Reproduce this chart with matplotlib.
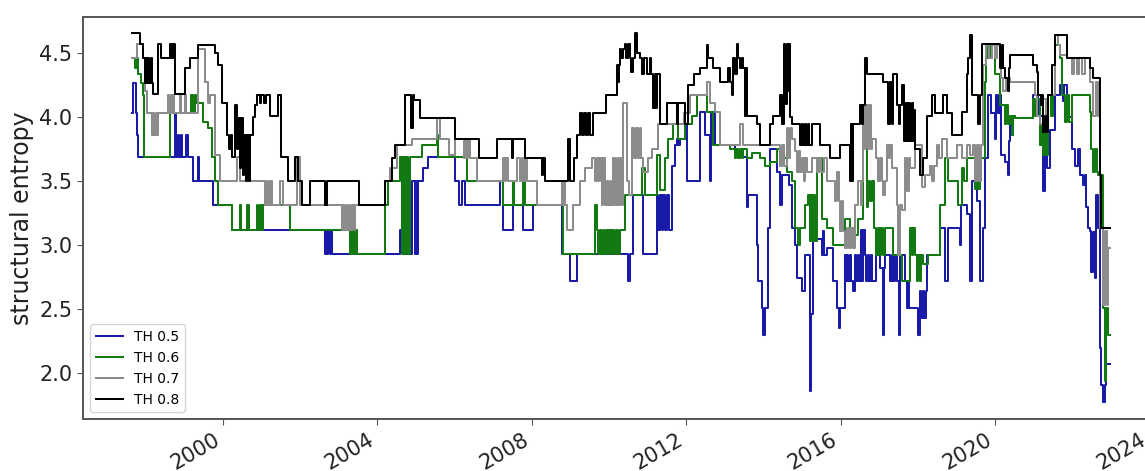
import matplotlib
matplotlib.use("Agg")
import matplotlib.pyplot as plt
import matplotlib.dates as mdates
from datetime import datetime, timedelta

# ---- data: (decimal year, structural entropy) step breakpoints ----
th05 = [(1997.63, 4.03), (1997.67, 4.26), (1997.73, 4.03), (1997.76, 3.86), (1997.80, 3.69),
        (1998.75, 4.03), (1998.78, 3.69), (1998.82, 3.86), (1998.85, 3.69), (1998.90, 3.86), (1998.94, 3.69),
        (1999.05, 3.86), (1999.09, 3.69), (1999.22, 3.50), (1999.34, 3.69), (1999.37, 3.50), (1999.75, 3.31),
        (2000.22, 3.12), (2002.64, 2.93), (2002.67, 3.12), (2002.70, 2.93), (2002.73, 3.12), (2002.76, 2.93),
        (2002.79, 3.12), (2002.82, 2.93), (2004.59, 3.12), (2004.67, 2.93), (2004.76, 3.50), (2004.79, 2.93),
        (2004.82, 3.50), (2004.85, 2.93), (2004.89, 3.50), (2004.97, 2.93), (2005.00, 3.50), (2005.03, 2.93),
        (2005.06, 3.50), (2005.19, 3.60), (2005.32, 3.69), (2006.01, 3.50), (2006.10, 3.31), (2006.18, 3.50),
        (2006.27, 3.31), (2007.18, 3.50), (2007.26, 3.12), (2007.52, 3.31), (2007.78, 3.12), (2008.04, 3.31),
        (2008.77, 2.93), (2008.99, 2.72), (2009.16, 2.93), (2010.50, 2.72), (2010.54, 2.93), (2010.63, 3.39),
        (2010.89, 2.93), (2011.24, 3.39), (2011.28, 3.12), (2011.32, 3.39), (2011.36, 3.12), (2011.40, 3.39),
        (2011.45, 3.12), (2011.50, 3.39), (2011.55, 3.12), (2011.62, 3.62), (2011.71, 3.78), (2011.76, 3.83),
        (2011.80, 3.78), (2011.84, 3.83), (2011.97, 3.94), (2012.01, 3.50), (2012.36, 4.04), (2012.49, 3.86),
        (2012.62, 3.50), (2012.64, 4.04), (2012.75, 3.78), (2013.26, 3.69), (2013.57, 3.30), (2013.61, 3.39),
        (2013.83, 3.00), (2013.87, 2.72), (2013.96, 2.51), (2014.00, 2.30), (2014.04, 2.51), (2014.13, 3.13),
        (2014.17, 3.75), (2014.34, 3.57), (2014.43, 3.31), (2014.47, 3.55), (2014.65, 3.47), (2014.73, 3.13),
        (2014.82, 3.00), (2014.86, 2.74), (2014.99, 2.64), (2015.08, 2.92), (2015.21, 1.86), (2015.23, 2.46),
        (2015.29, 3.11), (2015.38, 3.05), (2015.51, 2.92), (2015.55, 3.11), (2015.58, 2.92), (2015.64, 2.98),
        (2015.81, 2.72), (2015.90, 2.51), (2015.95, 2.35), (2015.99, 2.51), (2016.11, 2.92), (2016.14, 2.72),
        (2016.17, 2.92), (2016.20, 2.72), (2016.24, 2.92), (2016.28, 2.72), (2016.33, 2.64), (2016.37, 2.92),
        (2016.41, 2.72), (2016.45, 2.92), (2016.49, 2.72), (2016.53, 3.12), (2016.56, 2.72), (2016.59, 3.12),
        (2016.63, 2.92), (2016.67, 2.72), (2016.71, 2.92), (2016.75, 2.72), (2016.78, 2.92), (2016.81, 2.72),
        (2016.93, 2.92), (2017.02, 2.82), (2017.09, 2.30), (2017.12, 2.82), (2017.15, 2.92), (2017.28, 2.72),
        (2017.32, 2.92), (2017.36, 2.72), (2017.40, 2.92), (2017.45, 2.72), (2017.51, 2.30), (2017.55, 2.92),
        (2017.67, 2.72), (2017.72, 2.51), (2017.74, 2.72), (2017.76, 2.51), (2018.01, 2.30), (2018.05, 2.64),
        (2018.09, 2.43), (2018.13, 2.64), (2018.17, 2.43), (2018.20, 2.64), (2018.23, 2.92), (2018.58, 3.13),
        (2018.71, 2.72), (2018.79, 3.13), (2019.09, 3.00), (2019.12, 3.31), (2019.27, 3.24), (2019.35, 2.72),
        (2019.40, 3.50), (2019.53, 3.34), (2019.61, 2.72), (2019.68, 3.13), (2019.74, 3.68), (2019.83, 4.17),
        (2019.91, 4.03), (2020.00, 3.83), (2020.04, 4.17), (2020.08, 4.03), (2020.12, 4.17), (2020.17, 3.70),
        (2020.26, 3.65), (2020.34, 3.55), (2020.37, 3.81), (2020.39, 4.01), (2020.44, 3.86), (2020.48, 4.01),
        (2020.52, 3.99), (2020.99, 4.17), (2021.12, 4.01), (2021.25, 3.42), (2021.29, 3.81), (2021.34, 3.60),
        (2021.42, 3.90), (2021.55, 4.17), (2021.68, 4.25), (2021.75, 4.12), (2021.80, 4.25), (2021.86, 4.00),
        (2021.99, 3.75), (2022.08, 3.62), (2022.14, 3.75), (2022.20, 3.55), (2022.28, 3.47), (2022.33, 3.55),
        (2022.37, 3.30), (2022.42, 3.13), (2022.46, 3.11), (2022.50, 2.79), (2022.55, 3.10), (2022.59, 2.74),
        (2022.63, 3.39), (2022.68, 3.13), (2022.72, 2.20), (2022.74, 1.91), (2022.80, 1.78), (2022.85, 1.91),
        (2022.89, 2.07), (2022.98, 2.07)]

th06 = [(1997.63, 4.46), (1997.71, 4.38), (1997.76, 4.46), (1997.80, 4.33), (1997.87, 4.26), (1997.91, 4.17),
        (1997.95, 3.69), (1998.62, 4.03), (1999.18, 4.17), (1999.22, 4.03), (1999.27, 4.17), (1999.31, 4.11),
        (1999.48, 3.96), (1999.61, 3.91), (1999.70, 3.69), (1999.78, 3.50), (1999.88, 3.31), (2000.22, 3.12),
        (2000.44, 3.31), (2000.47, 3.12), (2000.63, 3.31), (2000.66, 3.12), (2000.87, 3.31), (2000.90, 3.12),
        (2000.96, 3.31), (2001.00, 3.12), (2001.04, 3.31), (2001.74, 3.12), (2003.29, 2.93), (2003.33, 3.12),
        (2003.37, 2.93), (2003.42, 3.12), (2003.47, 2.93), (2004.20, 3.31), (2004.28, 3.50), (2004.59, 3.69),
        (2004.63, 2.93), (2004.67, 3.69), (2004.71, 2.93), (2004.75, 3.69), (2004.79, 2.93), (2004.84, 3.69),
        (2005.15, 3.78), (2005.54, 3.86), (2005.56, 3.69), (2006.31, 3.50), (2007.26, 3.31), (2007.52, 3.50),
        (2007.55, 3.31), (2007.78, 3.50), (2007.81, 3.31), (2008.82, 2.93), (2009.64, 3.31), (2009.68, 3.12),
        (2009.72, 2.93), (2009.76, 3.12), (2009.80, 2.93), (2009.84, 3.12), (2009.88, 2.93), (2009.92, 3.12),
        (2009.96, 2.93), (2010.00, 3.12), (2010.04, 2.93), (2010.08, 3.12), (2010.13, 2.93), (2010.18, 3.12),
        (2010.22, 2.93), (2010.28, 3.12), (2010.41, 3.39), (2010.85, 3.60), (2010.93, 3.39), (2011.24, 3.70),
        (2011.32, 3.43), (2011.45, 3.68), (2011.54, 3.83), (2011.67, 3.94), (2011.80, 3.83), (2011.97, 3.94),
        (2012.14, 4.01), (2012.27, 4.17), (2012.53, 4.04), (2012.70, 3.78), (2013.14, 3.75), (2013.25, 3.68),
        (2013.28, 3.75), (2013.35, 3.68), (2013.38, 3.75), (2013.45, 3.68), (2013.48, 3.75), (2013.57, 3.68),
        (2013.70, 3.72), (2013.91, 3.68), (2014.04, 3.62), (2014.17, 3.65), (2014.34, 3.75), (2014.47, 3.68),
        (2014.60, 3.57), (2014.73, 3.50), (2014.82, 3.13), (2014.90, 3.00), (2014.95, 3.13), (2015.08, 3.31),
        (2015.16, 3.39), (2015.20, 3.03), (2015.24, 3.39), (2015.28, 3.03), (2015.32, 3.39), (2015.35, 3.03),
        (2015.38, 3.68), (2015.51, 3.20), (2015.64, 3.13), (2015.81, 3.00), (2016.11, 3.20), (2016.24, 3.13),
        (2016.33, 3.08), (2016.46, 3.20), (2016.59, 3.86), (2016.68, 3.30), (2016.72, 3.50), (2016.76, 3.34),
        (2016.81, 3.50), (2016.87, 3.13), (2016.93, 2.92), (2016.97, 3.13), (2017.01, 2.92), (2017.05, 3.13),
        (2017.09, 2.92), (2017.15, 3.13), (2017.37, 2.92), (2017.58, 2.72), (2017.80, 3.13), (2017.84, 2.92),
        (2017.88, 3.13), (2017.92, 2.92), (2017.97, 2.72), (2018.01, 2.92), (2018.05, 2.72), (2018.09, 2.92),
        (2018.14, 2.85), (2018.27, 2.92), (2018.58, 3.31), (2018.71, 3.68), (2018.79, 3.50), (2019.05, 3.31),
        (2019.14, 3.60), (2019.20, 3.50), (2019.27, 3.68), (2019.48, 3.44), (2019.52, 3.68), (2019.56, 3.44),
        (2019.61, 3.68), (2019.74, 4.27), (2019.78, 4.46), (2019.83, 4.56), (2019.88, 4.46), (2019.93, 4.56),
        (2020.00, 4.33), (2020.13, 4.09), (2020.26, 3.94), (2020.30, 4.09), (2020.34, 3.94), (2020.39, 4.01),
        (2020.44, 3.86), (2020.48, 4.01), (2020.52, 3.99), (2020.99, 4.14), (2021.04, 4.01), (2021.10, 4.14),
        (2021.17, 3.78), (2021.21, 3.94), (2021.25, 3.70), (2021.30, 3.94), (2021.34, 3.70), (2021.38, 4.17),
        (2021.45, 4.01), (2021.50, 4.17), (2021.55, 4.56), (2021.68, 4.46), (2021.74, 4.17), (2021.81, 3.96),
        (2021.86, 4.17), (2021.92, 3.96), (2021.99, 4.17), (2022.46, 4.04), (2022.50, 3.75), (2022.55, 3.57),
        (2022.60, 3.75), (2022.64, 3.57), (2022.68, 3.55), (2022.81, 2.51), (2022.85, 1.94), (2022.89, 2.51),
        (2022.94, 2.30), (2022.98, 2.30)]

th07 = [(1997.63, 4.46), (1997.76, 4.57), (1997.93, 4.46), (1997.97, 4.20), (1998.02, 4.03), (1998.16, 3.86),
        (1998.19, 4.03), (1998.22, 3.86), (1998.25, 4.03), (1998.28, 3.86), (1998.31, 4.03), (1998.58, 4.17),
        (1998.61, 4.03), (1998.64, 4.17), (1998.67, 4.03), (1998.70, 4.17), (1998.73, 4.03), (1998.87, 4.17),
        (1998.90, 4.03), (1999.00, 4.17), (1999.03, 4.03), (1999.35, 4.53), (1999.53, 4.27), (1999.61, 4.11),
        (1999.66, 4.17), (1999.79, 3.70), (1999.92, 3.50), (2000.35, 3.69), (2000.44, 3.50), (2001.09, 3.31),
        (2001.13, 3.50), (2001.17, 3.31), (2001.21, 3.50), (2001.26, 3.31), (2001.48, 3.50), (2001.56, 3.31),
        (2001.91, 3.69), (2001.99, 3.31), (2003.07, 3.12), (2003.10, 3.31), (2003.14, 3.12), (2003.18, 3.31),
        (2003.22, 3.12), (2003.26, 3.31), (2003.30, 3.12), (2003.34, 3.31), (2003.38, 3.12), (2003.42, 3.31),
        (2004.20, 3.50), (2004.33, 3.60), (2004.50, 3.78), (2004.89, 3.83), (2005.54, 3.99), (2005.62, 3.83),
        (2005.84, 3.70), (2006.01, 3.83), (2006.23, 3.68), (2006.27, 3.83), (2006.31, 3.68), (2006.35, 3.83),
        (2006.40, 3.68), (2006.57, 3.50), (2007.26, 3.68), (2007.30, 3.50), (2007.34, 3.68), (2007.38, 3.50),
        (2007.61, 3.68), (2007.70, 3.50), (2007.74, 3.68), (2007.78, 3.50), (2007.82, 3.68), (2007.87, 3.50),
        (2008.13, 3.31), (2008.77, 3.50), (2008.80, 3.31), (2008.83, 3.50), (2008.86, 3.31), (2008.90, 3.12),
        (2009.07, 3.31), (2009.25, 3.50), (2009.38, 3.60), (2009.55, 3.68), (2009.64, 3.50), (2009.68, 3.68),
        (2009.73, 3.50), (2009.77, 3.68), (2009.81, 3.31), (2009.85, 3.68), (2009.89, 3.31), (2009.94, 3.50),
        (2009.98, 3.31), (2010.02, 3.50), (2010.06, 3.31), (2010.11, 3.68), (2010.15, 3.31), (2010.20, 3.68),
        (2010.24, 3.31), (2010.28, 3.68), (2010.33, 3.31), (2010.37, 4.11), (2010.46, 3.50), (2010.52, 3.39),
        (2010.59, 3.91), (2010.64, 3.68), (2010.69, 3.91), (2010.74, 3.68), (2010.79, 3.91), (2010.84, 3.68),
        (2010.89, 3.57), (2011.02, 3.68), (2011.11, 3.75), (2011.28, 3.94), (2011.93, 4.03), (2012.10, 4.17),
        (2012.53, 4.27), (2012.62, 4.11), (2012.75, 4.04), (2012.88, 3.78), (2013.39, 3.94), (2013.48, 3.78),
        (2014.43, 3.62), (2014.48, 3.78), (2014.54, 3.62), (2014.60, 3.91), (2014.64, 3.68), (2014.68, 3.91),
        (2014.73, 3.83), (2014.82, 3.73), (2014.87, 3.57), (2014.92, 3.73), (2014.96, 3.57), (2014.99, 3.68),
        (2015.04, 3.50), (2015.08, 3.68), (2015.12, 3.57), (2015.25, 3.68), (2015.38, 3.57), (2015.44, 3.68),
        (2015.50, 3.57), (2015.57, 3.68), (2015.64, 3.50), (2015.86, 3.34), (2015.91, 3.57), (2015.95, 3.34),
        (2015.98, 3.11), (2016.03, 3.34), (2016.07, 3.11), (2016.11, 2.98), (2016.16, 3.13), (2016.21, 2.98),
        (2016.26, 3.13), (2016.31, 2.98), (2016.37, 3.31), (2016.46, 3.50), (2016.52, 3.31), (2016.56, 3.50),
        (2016.59, 4.09), (2016.63, 3.75), (2016.67, 4.09), (2016.71, 3.75), (2016.75, 4.09), (2016.78, 3.75),
        (2016.81, 3.83), (2016.93, 3.68), (2016.97, 3.50), (2017.01, 3.68), (2017.06, 3.50), (2017.10, 3.39),
        (2017.14, 3.50), (2017.19, 3.78), (2017.25, 3.68), (2017.28, 3.78), (2017.32, 3.60), (2017.45, 3.31),
        (2017.49, 2.92), (2017.53, 3.31), (2017.58, 3.27), (2017.67, 3.68), (2017.72, 3.42), (2017.76, 3.68),
        (2017.80, 3.60), (2017.93, 3.78), (2018.10, 3.45), (2018.19, 3.55), (2018.32, 3.62), (2018.37, 3.50),
        (2018.42, 3.62), (2018.49, 3.78), (2018.55, 3.68), (2018.62, 3.83), (2018.75, 3.68), (2019.01, 3.78),
        (2019.14, 3.68), (2019.27, 3.78), (2019.35, 3.70), (2019.44, 3.78), (2019.48, 3.50), (2019.53, 3.78),
        (2019.58, 3.50), (2019.64, 3.78), (2019.70, 4.40), (2019.78, 4.56), (2019.85, 4.46), (2019.92, 4.56),
        (2020.00, 4.46), (2020.06, 4.56), (2020.13, 4.46), (2020.17, 4.30), (2020.22, 4.20), (2020.30, 4.30),
        (2020.39, 4.27), (2021.04, 4.17), (2021.10, 4.01), (2021.17, 3.94), (2021.25, 4.14), (2021.31, 4.01),
        (2021.38, 4.17), (2021.55, 4.64), (2021.62, 4.56), (2021.68, 4.48), (2021.86, 4.46), (2021.99, 4.33),
        (2022.06, 4.46), (2022.12, 4.33), (2022.19, 4.46), (2022.26, 4.33), (2022.33, 4.46), (2022.46, 4.27),
        (2022.55, 4.01), (2022.62, 4.27), (2022.67, 4.01), (2022.72, 3.13), (2022.81, 2.53), (2022.86, 3.11),
        (2022.90, 2.53), (2022.94, 2.98), (2022.98, 2.98)]

th08 = [(1997.63, 4.65), (1997.84, 4.57), (1997.93, 4.46), (1997.97, 4.26), (1998.00, 4.46), (1998.03, 4.26),
        (1998.06, 4.46), (1998.09, 4.26), (1998.12, 4.46), (1998.15, 4.26), (1998.19, 4.18), (1998.30, 4.57),
        (1998.40, 4.46), (1998.62, 4.57), (1998.65, 4.46), (1998.68, 4.57), (1998.71, 4.46), (1998.73, 4.57),
        (1998.75, 4.18), (1999.01, 4.38), (1999.14, 4.46), (1999.35, 4.56), (1999.79, 4.50), (1999.88, 4.40),
        (1999.97, 4.11), (2000.10, 3.86), (2000.16, 3.75), (2000.20, 3.86), (2000.22, 3.69), (2000.31, 4.09),
        (2000.35, 3.75), (2000.39, 3.99), (2000.43, 3.60), (2000.47, 3.99), (2000.51, 3.55), (2000.55, 3.86),
        (2000.59, 3.50), (2000.63, 3.86), (2000.67, 3.50), (2000.70, 3.86), (2000.77, 4.00), (2000.83, 4.09),
        (2000.87, 4.17), (2000.95, 4.11), (2000.99, 4.17), (2001.07, 4.11), (2001.11, 4.17), (2001.22, 4.01),
        (2001.43, 4.17), (2001.50, 3.69), (2001.69, 3.50), (2001.87, 3.69), (2001.95, 3.50), (2002.04, 3.31),
        (2002.25, 3.50), (2002.64, 3.31), (2002.70, 3.50), (2003.51, 3.31), (2004.20, 3.50), (2004.37, 3.68),
        (2004.46, 3.78), (2004.71, 4.17), (2004.87, 3.91), (2004.91, 4.17), (2004.95, 4.13), (2005.10, 3.99),
        (2006.01, 3.83), (2006.62, 3.68), (2007.09, 3.83), (2007.48, 3.68), (2007.52, 3.83), (2007.82, 3.68),
        (2008.26, 3.55), (2008.30, 3.68), (2008.34, 3.50), (2008.95, 3.83), (2008.99, 3.50), (2009.08, 3.68),
        (2009.16, 3.86), (2009.25, 4.03), (2009.30, 3.86), (2009.35, 4.03), (2009.40, 3.86), (2009.45, 4.03),
        (2009.50, 3.86), (2009.59, 4.03), (2009.92, 4.17), (2010.20, 4.40), (2010.23, 4.27), (2010.26, 4.40),
        (2010.28, 4.53), (2010.32, 4.46), (2010.36, 4.53), (2010.41, 4.57), (2010.45, 4.46), (2010.49, 4.57),
        (2010.54, 4.46), (2010.58, 4.35), (2010.62, 4.46), (2010.67, 4.65), (2010.72, 4.50), (2010.80, 4.46),
        (2010.85, 4.33), (2010.90, 4.46), (2010.98, 4.33), (2011.06, 4.46), (2011.10, 4.33), (2011.15, 4.07),
        (2011.19, 4.33), (2011.21, 4.07), (2011.24, 4.33), (2011.32, 3.94), (2011.49, 4.11), (2011.75, 3.94),
        (2011.80, 4.11), (2011.97, 3.94), (2012.06, 4.25), (2012.19, 4.33), (2012.36, 4.38), (2012.53, 4.56),
        (2012.57, 4.46), (2012.70, 4.38), (2012.88, 4.27), (2013.09, 4.38), (2013.14, 4.27), (2013.18, 4.17),
        (2013.22, 4.46), (2013.26, 4.33), (2013.31, 4.57), (2013.35, 4.46), (2013.40, 4.38), (2013.44, 4.46),
        (2013.48, 4.38), (2013.52, 4.01), (2013.55, 4.38), (2013.58, 4.01), (2013.83, 3.94), (2013.91, 3.78),
        (2014.17, 3.94), (2014.26, 4.01), (2014.43, 4.17), (2014.47, 3.94), (2014.54, 4.57), (2014.57, 4.10),
        (2014.60, 4.57), (2014.63, 4.20), (2014.67, 4.57), (2014.70, 4.00), (2014.73, 3.94), (2014.95, 3.78),
        (2014.99, 3.94), (2015.03, 3.78), (2015.07, 3.94), (2015.11, 3.78), (2015.15, 3.94), (2015.19, 3.78),
        (2015.25, 3.94), (2015.47, 3.78), (2015.73, 3.68), (2015.98, 3.78), (2016.24, 3.50), (2016.28, 3.94),
        (2016.30, 3.50), (2016.33, 3.94), (2016.50, 4.09), (2016.55, 3.94), (2016.59, 4.09), (2016.63, 4.46),
        (2016.68, 4.33), (2017.11, 4.27), (2017.24, 3.94), (2017.28, 4.27), (2017.32, 3.94), (2017.37, 4.33),
        (2017.45, 4.09), (2017.50, 3.94), (2017.54, 4.09), (2017.58, 4.25), (2017.63, 3.81), (2017.66, 4.11),
        (2017.69, 3.81), (2017.72, 4.11), (2017.75, 3.81), (2017.78, 4.11), (2017.81, 3.81), (2017.84, 4.11),
        (2017.87, 3.81), (2017.90, 4.05), (2017.93, 3.75), (2018.06, 3.55), (2018.14, 3.68), (2018.23, 4.01),
        (2018.36, 4.17), (2018.45, 4.03), (2018.66, 4.17), (2018.75, 4.03), (2018.88, 3.86), (2019.14, 4.04),
        (2019.27, 4.33), (2019.31, 4.46), (2019.35, 4.64), (2019.40, 4.17), (2019.57, 3.94), (2019.61, 4.17),
        (2019.66, 4.57), (2020.13, 4.38), (2020.18, 4.56), (2020.22, 4.38), (2020.26, 4.30), (2020.34, 4.20),
        (2020.37, 4.38), (2020.39, 4.48), (2020.99, 4.40), (2021.08, 4.35), (2021.12, 4.17), (2021.18, 4.09),
        (2021.21, 4.17), (2021.25, 3.88), (2021.30, 4.01), (2021.34, 3.88), (2021.38, 4.17), (2021.47, 4.40),
        (2021.55, 4.64), (2021.86, 4.46), (2022.46, 4.38), (2022.55, 4.30), (2022.72, 3.55), (2022.76, 3.13),
        (2022.98, 3.13)]

labels = ["TH 0.5", "TH 0.6", "TH 0.7", "TH 0.8"]
colors = ["#1a1aa8", "#137a13", "#8c8c8c", "#000000"]


def to_date(y):
    yr = int(y)
    return datetime(yr, 1, 1) + timedelta(days=(y - yr) * 365.25)


W, H = 1145, 471
fig = plt.figure(figsize=(W / 100, H / 100), dpi=100)
ax = fig.add_axes([83 / W, 1 - 419 / H, (1157 - 83) / W, (419 - 17) / H])

for series, lab, col in zip([th05, th06, th07, th08], labels, colors):
    xs = [to_date(t) for t, _ in series]
    ys = [v for _, v in series]
    ax.step(xs, ys, where="post", color=col, lw=1.45, label=lab)

ax.set_xlim(to_date(1996.37), to_date(2024.2))
ax.set_ylim(1.644, 4.778)
ax.set_yticks([2.0, 2.5, 3.0, 3.5, 4.0, 4.5])
ax.xaxis.set_major_locator(mdates.YearLocator(4))
ax.xaxis.set_major_formatter(mdates.DateFormatter("%Y"))
ax.tick_params(axis="both", labelsize=15, color="#555555", labelcolor="#222222", length=4)
for lbl in ax.get_xticklabels():
    lbl.set_rotation(30)
    lbl.set_ha("right")
for sp in ax.spines.values():
    sp.set_color("#555555")
    sp.set_linewidth(1.4)
ax.set_ylabel("structural entropy", fontsize=17, color="#222222")
ax.legend(loc="lower left", fontsize=10)

fig.savefig("out.png", dpi=100)
